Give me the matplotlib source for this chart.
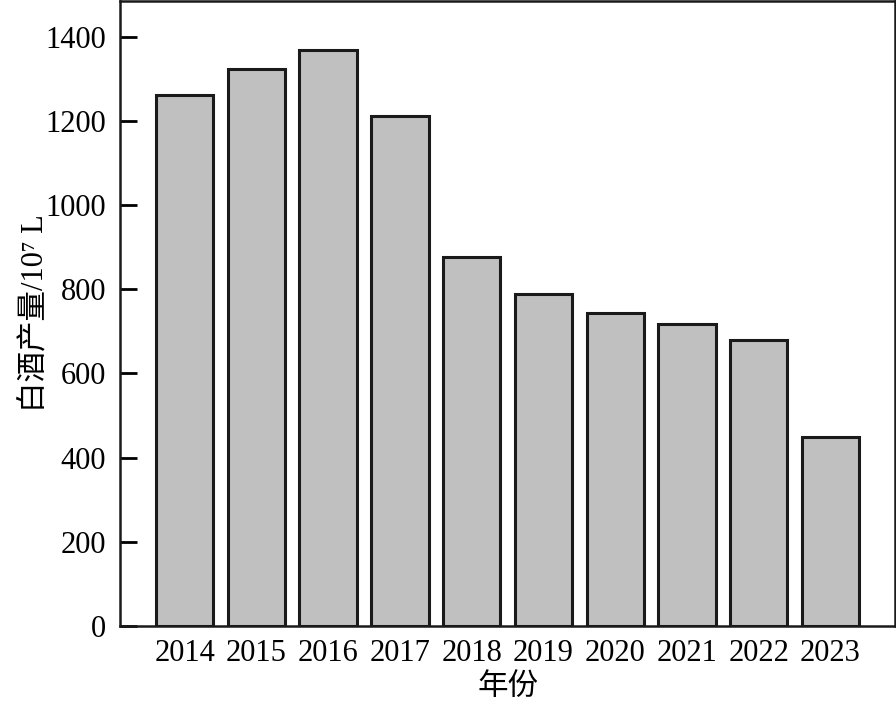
import matplotlib
matplotlib.use("Agg")
import matplotlib.pyplot as plt

# data
years = ['2014', '2015', '2016', '2017', '2018', '2019', '2020', '2021', '2022', '2023']
output = [1262, 1324, 1369, 1212, 877, 789, 744, 718, 680, 449]

plt.rcParams['font.family'] = ['Liberation Serif', 'Noto Sans CJK SC']

fig = plt.figure(figsize=(8.96, 7.05), dpi=100)
ax = fig.add_axes([0.134, 0.112, 0.865, 0.8866])

x = list(range(len(years)))
ax.bar(x, output, width=0.8, color='#c0c0c0', edgecolor='#1a1a1a', linewidth=2.2)

ax.set_xlim(-0.9, 9.9)
ax.set_ylim(0, 1485)
ax.set_xticks(x)
ax.set_xticklabels(years)
ax.set_yticks(range(0, 1401, 200))

ax.tick_params(axis='x', length=0, pad=9, labelsize=22)
ax.tick_params(axis='y', direction='in', length=12, width=2, pad=10, labelsize=22)

for s in ax.spines.values():
    s.set_linewidth(1.8)
    s.set_color('#1a1a1a')

ax.set_xlabel('年份', fontsize=22, labelpad=4)
ax.set_ylabel('白酒产量/10⁷ L', fontsize=22, labelpad=-3)

fig.savefig('out.png', dpi=100)
